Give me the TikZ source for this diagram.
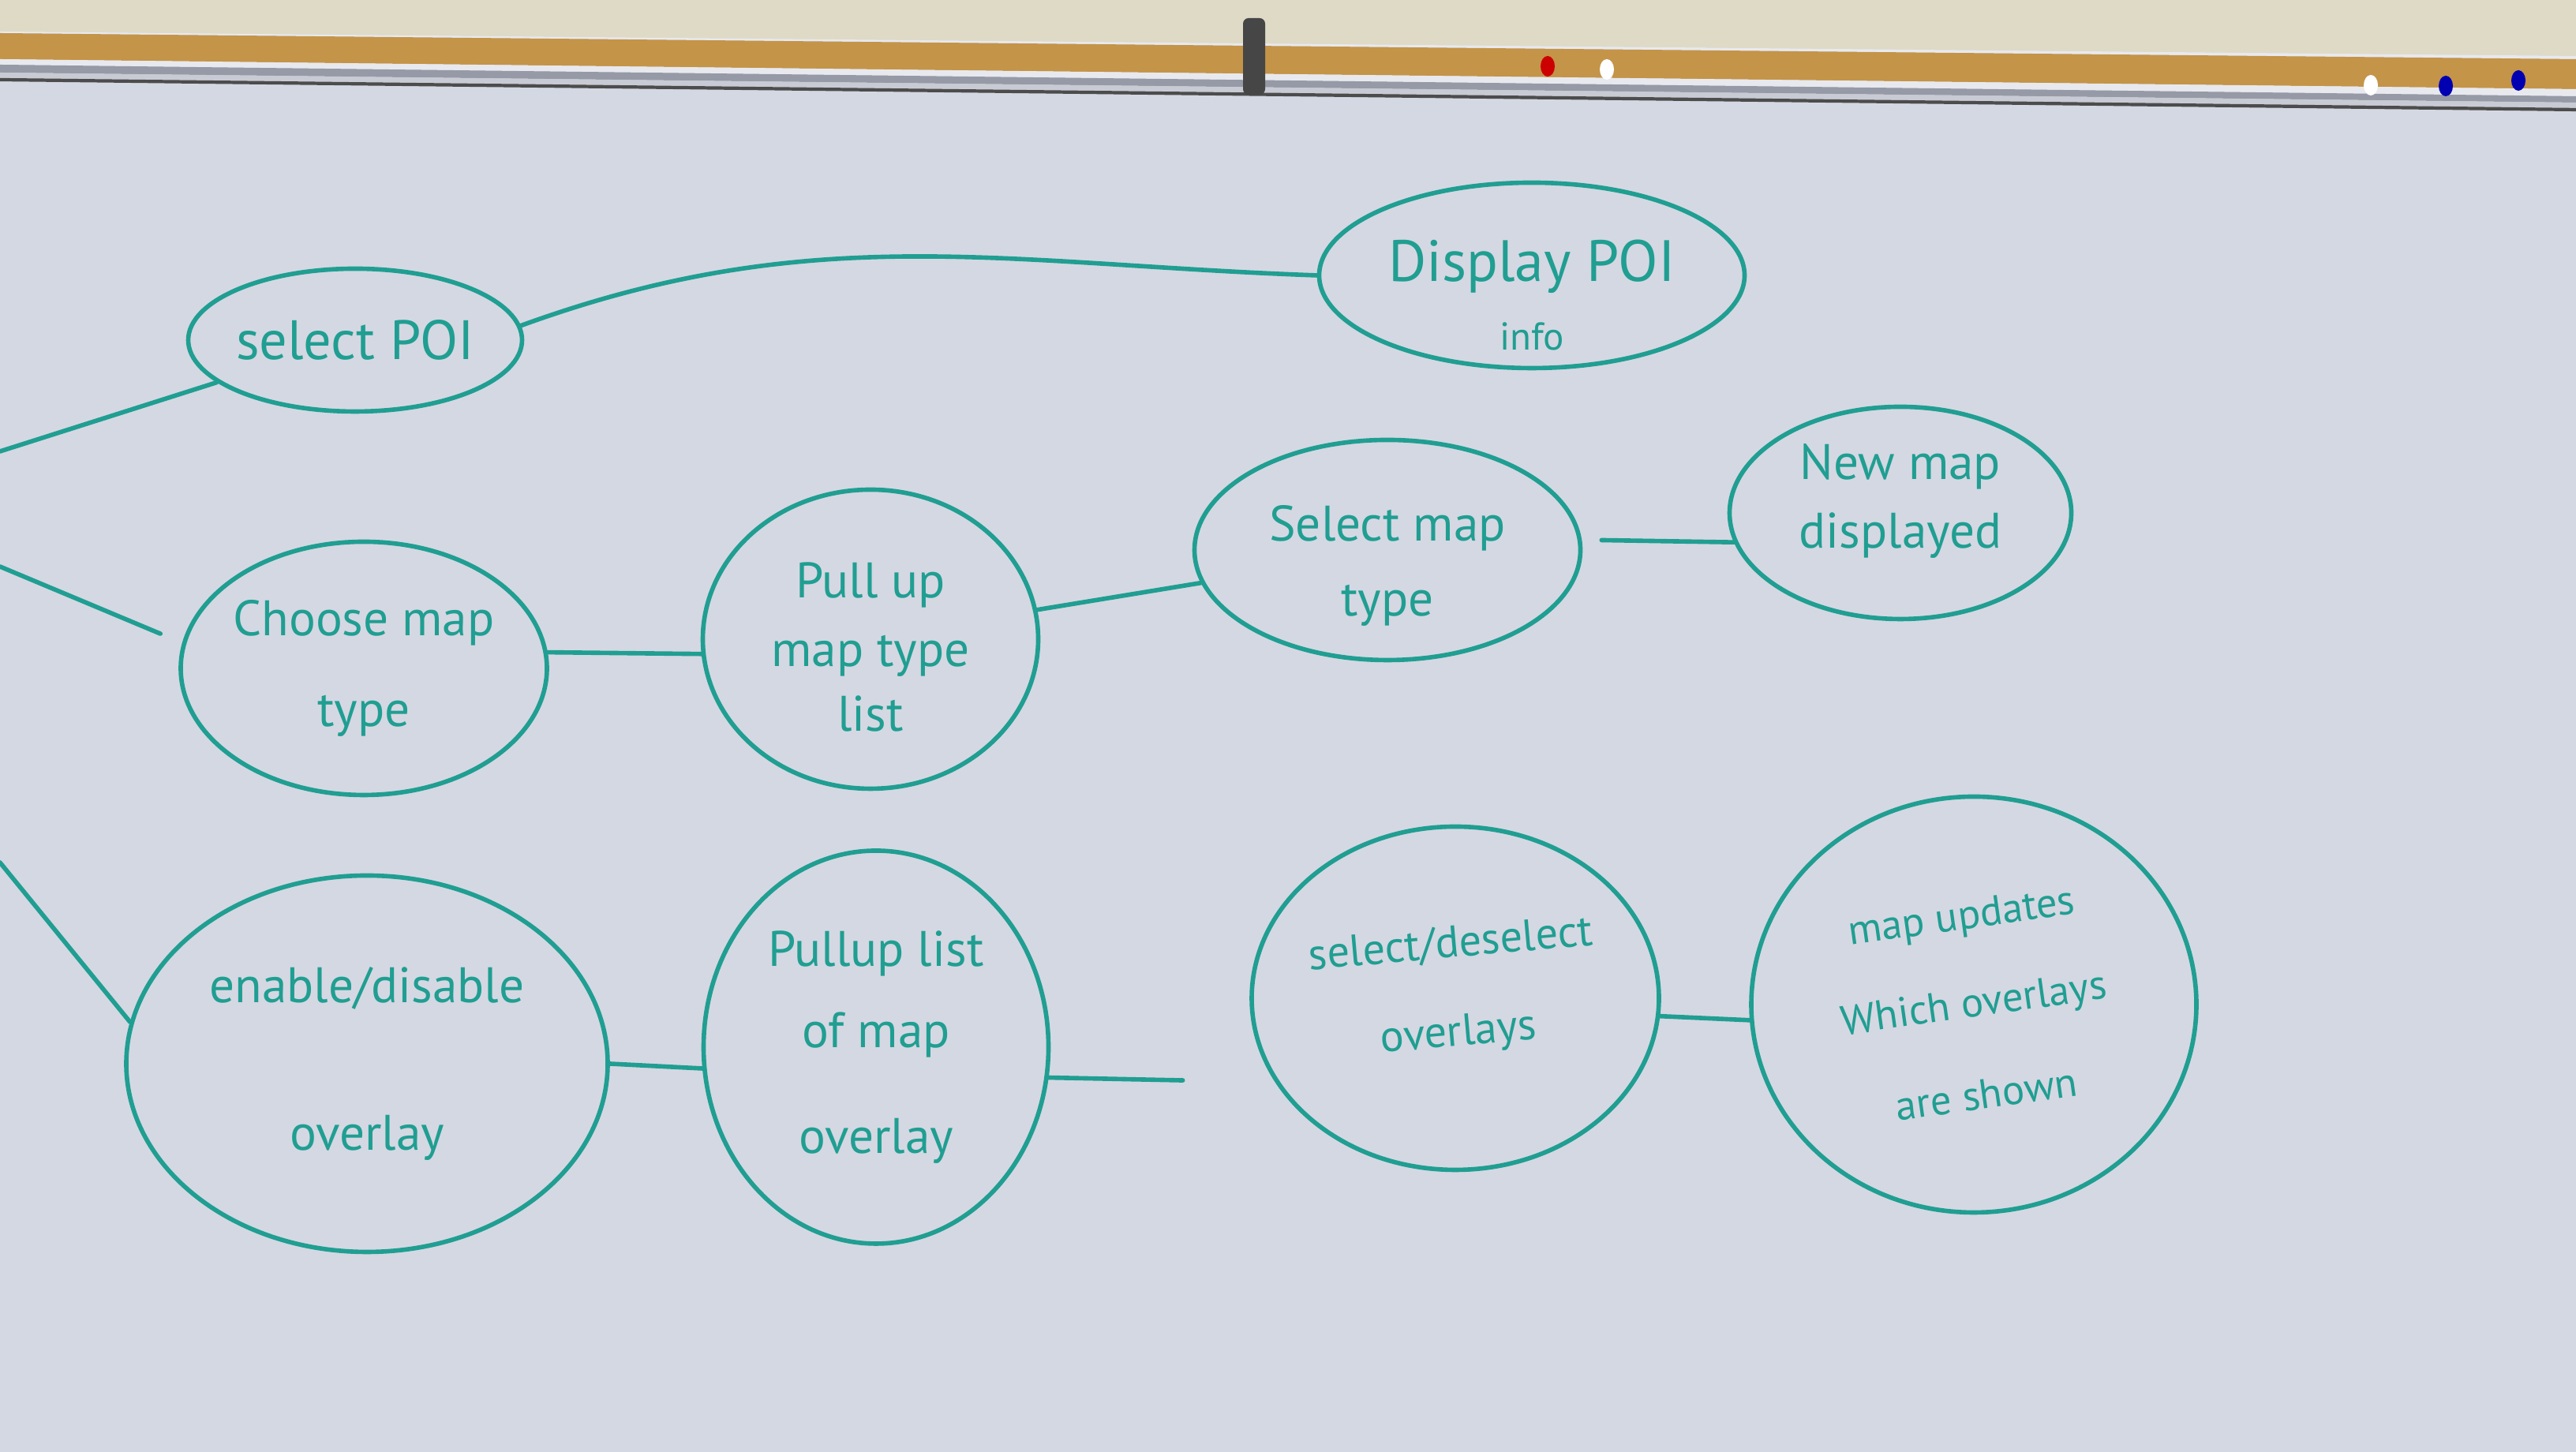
\documentclass[tikz,border=0pt]{standalone}
\usepackage{fontspec}
\setmainfont{PT Sans}
\usetikzlibrary{shapes.geometric}
\definecolor{board}{RGB}{212,216,226}
\definecolor{ink}{RGB}{32,158,146}
\definecolor{wall}{RGB}{222,218,198}
\definecolor{cork}{RGB}{196,148,72}
\definecolor{rail}{RGB}{232,233,238}
\definecolor{railshade}{RGB}{150,154,166}
\definecolor{railedge}{RGB}{200,203,212}
\begin{document}
\begin{tikzpicture}[line join = round, line cap = round, font=\fontsize{18}{22}\selectfont,
	bubble/.style={ellipse, draw=ink, line width=1.6pt, inner sep=0pt},
	txt/.style={text=ink, align=center, inner sep=0pt},
	link/.style={draw=ink, line width=1.6pt}]
	\def \W{32.64};
	\def \H{18.40};
	\useasboundingbox (0,0) rectangle (\W,\H);
	\fill[board] (0,0) rectangle (\W,\H);
	\fill[wall] (0,\H) -- (\W,\H) -- (\W,17.69) -- (0,18.00) -- cycle;
	\fill[rail] (0,18.00) -- (\W,17.69) -- (\W,17.65) -- (0,17.98) -- cycle;
	\fill[cork] (0,17.98) -- (\W,17.65) -- (\W,17.27) -- (0,17.65) -- cycle;
	\fill[rail] (0,17.65) -- (\W,17.27) -- (\W,17.18) -- (0,17.58) -- cycle;
	\fill[railshade] (0,17.58) -- (\W,17.18) -- (\W,17.10) -- (0,17.48) -- cycle;
	\fill[railedge] (0,17.48) -- (\W,17.10) -- (\W,17.02) -- (0,17.40) -- cycle;
	\draw[gray!60!black, line width=1.2pt] (0,17.39) -- (\W,17.01);
	\fill[gray!55!black, rounded corners=2pt] (15.75,17.20) rectangle (16.03,18.17);
	\foreach \x/\y/\c in {19.61/17.56/red!80!black, 20.36/17.52/white, 30.04/17.32/white, 30.99/17.31/blue!70!black, 31.91/17.38/blue!70!black}
	{
		\fill[\c] (\x,\y) ellipse (0.09 and 0.13);
	}
	\node[bubble, minimum width=4.23cm, minimum height=1.81cm, label={[txt, font=\fontsize{20}{24}\selectfont]center:select POI}] (selpoi) at (4.50,14.09) {};
	\node[bubble, minimum width=5.39cm, minimum height=2.35cm, label={[txt, font=\fontsize{21}{25}\selectfont, yshift=-0.25cm]center:{Display POI\\{\fontsize{14}{16}\selectfont info}}}] (disppoi) at (19.41,14.91) {};
	\node[bubble, minimum width=4.64cm, minimum height=3.21cm, label={[txt]center:{Choose map\\[0.37cm]type}}] (choose) at (4.61,9.93) {};
	\node[bubble, minimum width=4.25cm, minimum height=3.79cm, label={[txt, yshift=-0.1cm]center:{Pull up\\[0.1cm]map type\\[0.05cm]list}}] (pulltype) at (11.03,10.30) {};
	\node[bubble, minimum width=4.89cm, minimum height=2.79cm, label={[txt, yshift=-0.2cm]center:{Select map\\[0.18cm]type}}] (seltype) at (17.58,11.43) {};
	\node[bubble, minimum width=4.33cm, minimum height=2.69cm, label={[txt, yshift=0.15cm]center:{New map\\[0.1cm]displayed}}] (newmap) at (24.08,11.90) {};
	\node[bubble, minimum width=6.10cm, minimum height=4.77cm, label={[txt]center:{enable/disable\\[1.1cm]overlay}}] (enable) at (4.65,4.92) {};
	\node[bubble, minimum width=4.37cm, minimum height=4.98cm, label={[txt]center:{Pullup list\\[0.26cm]of map\\[0.57cm]overlay}}] (pulllist) at (11.10,5.13) {};
	\node[bubble, minimum width=5.16cm, minimum height=4.35cm, label={[txt, font=\fontsize{16}{20}\selectfont, rotate=5, yshift=0.1cm]center:{select/deselect\\[0.42cm]overlays}}] (seldesel) at (18.44,5.75) {};
	\node[bubble, minimum width=5.64cm, minimum height=5.27cm, label={[txt, font=\fontsize{15}{19}\selectfont, rotate=8]center:{map updates\\[0.45cm]Which overlays\\[0.5cm]are shown}}] (updates) at (25.01,5.67) {};
	\coordinate (in1) at (0,12.68);
	\coordinate (in2) at (0,11.22);
	\coordinate (in3) at (0,7.47);
	\draw[link] (in1) -- (selpoi.197);
	\draw[link, shorten >=0.3cm] (in2) -- (choose.172);
	\draw[link] (in3) -- (enable.170);
	\draw[link] (selpoi.5) to[out=20,in=178] (disppoi.west);
	\draw[link] (choose.5) -- (pulltype.185);
	\draw[link] (pulltype.10) -- (seltype.190);
	\draw[link, shorten <=0.25cm] (seltype.3) -- (newmap.190);
	\draw[link] (enable.east) -- (pulllist.187);
	\draw[link, shorten >=1.17cm] (pulllist.-10) -- (seldesel.205);
	\draw[link] (seldesel.-5) -- (updates.184);
\end{tikzpicture}
\end{document}
